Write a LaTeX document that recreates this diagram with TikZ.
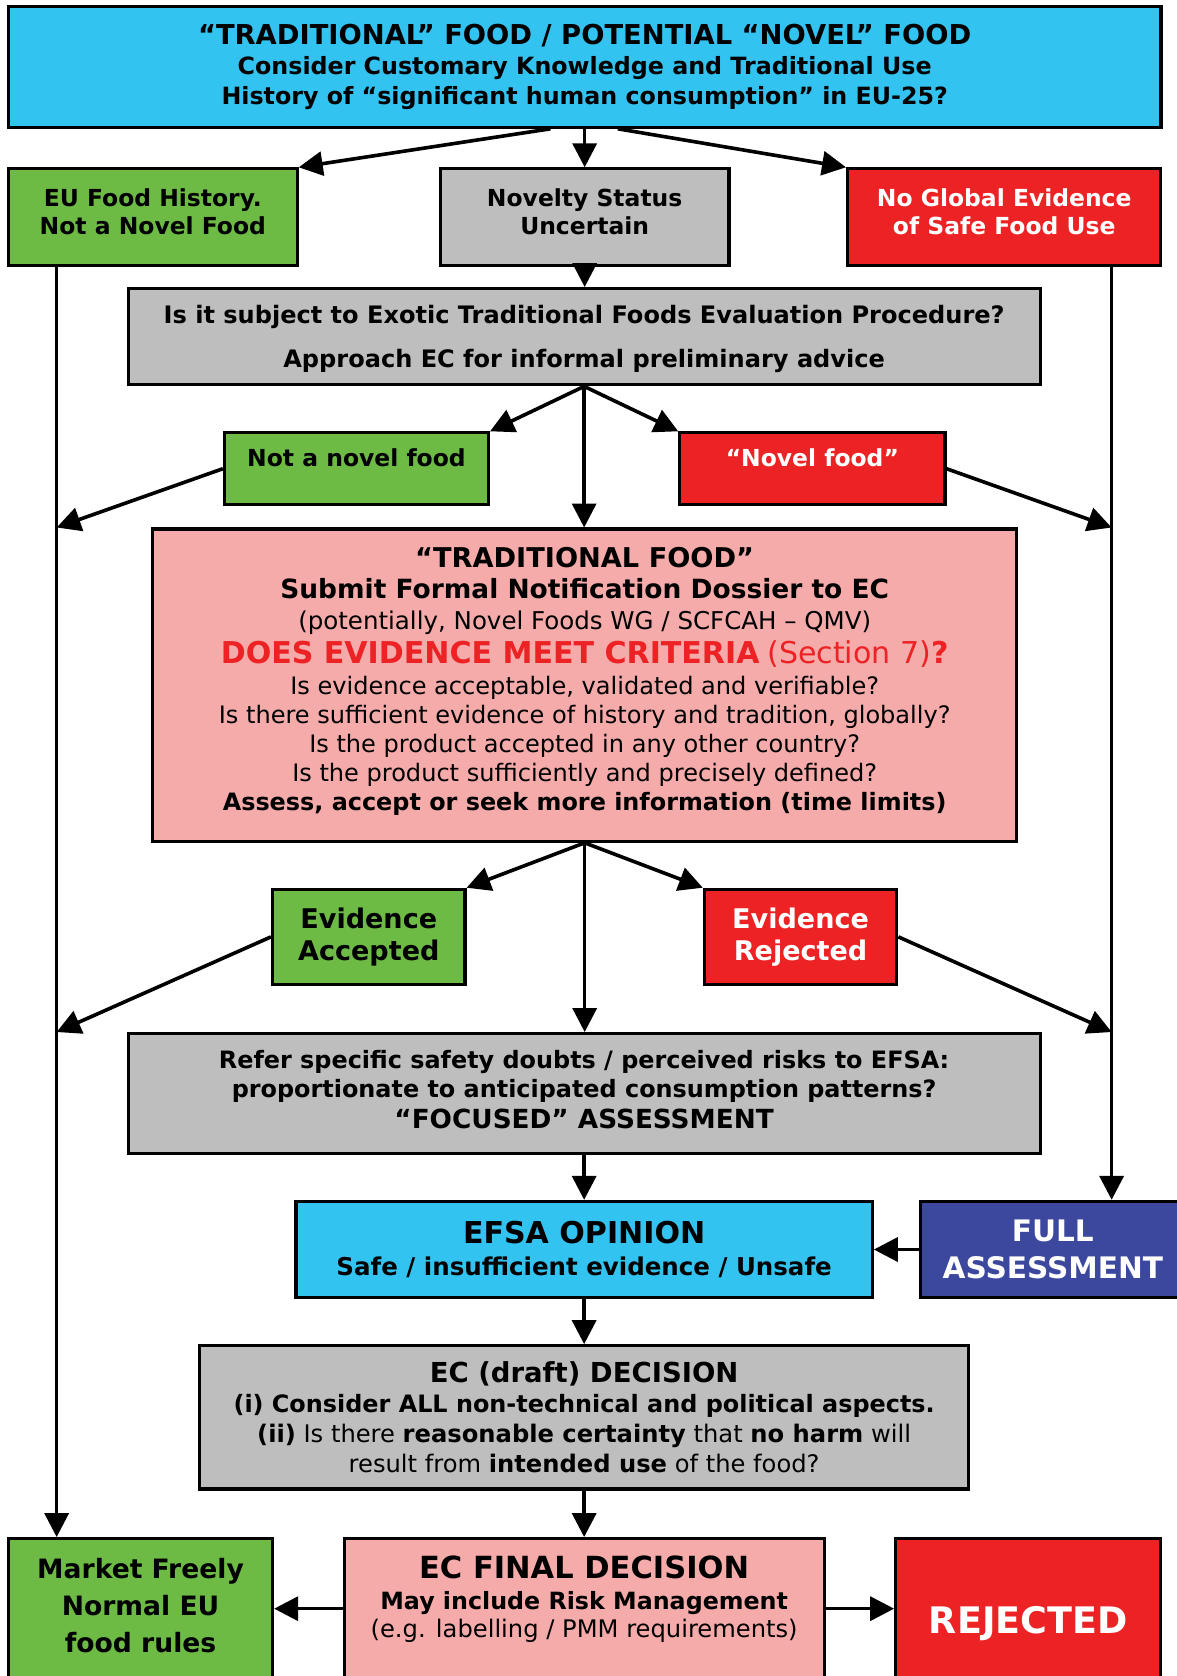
\documentclass[tikz,border=0pt]{standalone}
\usepackage{fontspec}
\setmainfont{DejaVu Sans}
\usetikzlibrary{arrows.meta}

\definecolor{skyblue}{RGB}{51,195,240}
\definecolor{leafgreen}{RGB}{109,187,69}
\definecolor{boxgray}{RGB}{190,190,190}
\definecolor{alertred}{RGB}{237,34,36}
\definecolor{salmon}{RGB}{246,171,171}
\definecolor{deepblue}{RGB}{60,71,158}

\newcommand{\fsz}[2]{\fontsize{#1}{#2}\selectfont}

\tikzset{
  box/.style={draw=black, line width=2.1pt, align=center, inner sep=0pt},
  flow/.style={line width=2.4pt, -{Triangle[length=0.56cm,width=0.56cm]}},
}

\begin{document}
\begin{tikzpicture}[x=0.025cm, y=-0.025cm]
\useasboundingbox (0,0) rectangle (1101,1568);

% Starting question
\node[box, fill=skyblue, minimum width=26.95cm, minimum height=2.825cm, font=\bfseries\fsz{15.8}{19.9}] (top) at (547,62.5)
  {{\fsz{18.2}{19.9}“TRADITIONAL” FOOD / POTENTIAL “NOVEL” FOOD}\\
   Consider Customary Knowledge and Traditional Use\\
   History of “significant human consumption” in EU-25?};

% First outcomes
\node[box, fill=leafgreen, minimum width=6.75cm, minimum height=2.25cm, text depth=0.25cm, font=\bfseries\fsz{15.6}{19.2}] (euhist) at (143,203)
  {EU Food History.\\Not a Novel Food};
\node[box, fill=boxgray, minimum width=6.75cm, minimum height=2.25cm, text depth=0.25cm, font=\bfseries\fsz{15.6}{19.2}] (novelty) at (547,203)
  {Novelty Status\\Uncertain};
\node[box, fill=alertred, text=white, minimum width=7.325cm, minimum height=2.25cm, text depth=0.25cm, font=\bfseries\fsz{15.6}{19.2}] (noglobal) at (939.5,203)
  {No Global Evidence\\of Safe Food Use};

\node[box, fill=boxgray, minimum width=21.325cm, minimum height=2.25cm, text depth=0pt, font=\bfseries\fsz{16}{19.2}] (exotic) at (546.5,315)
  {Is it subject to Exotic Traditional Foods Evaluation Procedure?\\[10pt]
   Approach EC for informal preliminary advice};

\node[box, fill=leafgreen, minimum width=6.175cm, minimum height=1.675cm, text height=0.4cm, text depth=0.5cm, font=\bfseries\fsz{15.6}{19.2}] (notnovel) at (333.5,438.5)
  {Not a novel food};
\node[box, fill=alertred, text=white, minimum width=6.2cm, minimum height=1.675cm, text height=0.4cm, text depth=0.5cm, font=\bfseries\fsz{15.6}{19.2}] (novelfood) at (760,438.5)
  {“Novel food”};

% Notification dossier
\node[box, fill=salmon, minimum width=20.2cm, minimum height=7.3cm, text depth=0.3cm, font=\fsz{16}{19.2}] (dossier) at (547,641)
  {{\bfseries\fsz{18.1}{19.2}“TRADITIONAL FOOD”}\\[1.5pt]
   {\bfseries\fsz{17.6}{19.2}Submit Formal Notification Dossier to EC}\\[1.5pt]
   {\fsz{16.3}{19.2}(potentially, Novel Foods WG / SCFCAH – QMV)}\\[3.5pt]
   {\color{alertred}{\bfseries\fsz{20}{19.2}DOES EVIDENCE MEET CRITERIA} {\fsz{20}{19.2}(Section 7)}{\bfseries\fsz{20}{19.2}?}}\\[1.5pt]
   Is evidence acceptable, validated and verifiable?\\
   Is there sufficient evidence of history and tradition, globally?\\
   Is the product accepted in any other country?\\
   Is the product sufficiently and precisely defined?\\
   {\bfseries\fsz{15.9}{19.2}Assess, accept or seek more information (time limits)}};

\node[box, fill=leafgreen, minimum width=4.5cm, minimum height=2.225cm, font=\bfseries\fsz{18}{21.3}] (accepted) at (345,876.5)
  {Evidence\\Accepted};
\node[box, fill=alertred, text=white, minimum width=4.5cm, minimum height=2.225cm, font=\bfseries\fsz{18}{21.3}] (rejected) at (749,876.5)
  {Evidence\\Rejected};

% Assessment
\node[box, fill=boxgray, minimum width=21.325cm, minimum height=2.8cm, text depth=0.2cm, font=\bfseries\fsz{15.9}{19.6}] (refer) at (546.5,1023)
  {Refer specific safety doubts / perceived risks to EFSA:\\
   proportionate to anticipated consumption patterns?\\[1pt]
   {\fsz{17.5}{19.6}“FOCUSED” ASSESSMENT}};

\node[box, fill=skyblue, minimum width=13.475cm, minimum height=2.25cm, font=\bfseries\fsz{16.3}{21}] (efsa) at (546.5,1169)
  {{\fsz{20}{21}EFSA OPINION}\\
   Safe / insufficient evidence / Unsafe};
\node[box, fill=deepblue, text=white, minimum width=6.2cm, minimum height=2.25cm, font=\bfseries\fsz{19.7}{24.9}] (full) at (985,1169)
  {FULL\\ASSESSMENT};

\node[box, fill=boxgray, minimum width=17.975cm, minimum height=3.35cm, font=\fsz{16.1}{19.9}] (draft) at (546.5,1326)
  {{\bfseries\fsz{18.3}{19.9}EC (draft) DECISION}\\
   {\bfseries\fsz{15.9}{19.9}(i) Consider ALL non-technical and political aspects.}\\
   {\bfseries (ii)} Is there {\bfseries reasonable certainty} that {\bfseries no harm} will\\
   result from {\bfseries intended use} of the food?};

% Final outcomes
\node[box, fill=leafgreen, anchor=north, minimum width=6.175cm, inner ysep=0.47cm, text depth=2.5cm, font=\bfseries\fsz{17.7}{24.5}] (market) at (131.5,1438)
  {Market Freely\\Normal EU\\food rules};
\node[box, fill=salmon, anchor=north, minimum width=11.225cm, inner ysep=0.41cm, text depth=2.5cm, font=\fsz{16.1}{18.8}] (final) at (546.5,1438)
  {{\bfseries\fsz{20.3}{18.8}EC FINAL DECISION}\\[1.5pt]
   {\bfseries\fsz{15.8}{18.8}May include Risk Management}\\
   (e.g. labelling / PMM requirements)};
\node[box, fill=alertred, text=white, anchor=north, minimum width=6.2cm, inner ysep=1.58cm, text depth=2.5cm, font=\bfseries\fsz{24.3}{28}] (refused) at (962,1438)
  {REJECTED};

% Side lines
\coordinate (lline) at (53,248);
\coordinate (rline) at (1040,248);
\coordinate (arrowrow) at (0,1505);

% Draw the connectors
\draw[flow] (top) -- (novelty);
\draw[flow] ([xshift=-0.8cm]top.south) -- (euhist.north east);
\draw[flow] ([xshift=0.775cm]top.south) -- (noglobal.north west);
\draw[flow] (novelty.south) -- (novelty.south |- exotic.north);
\draw[flow] (exotic.south) -- (exotic.south |- dossier.north);
\draw[flow] (exotic.south) -- (notnovel.north east);
\draw[flow] (exotic.south) -- (novelfood.north west);
\draw[flow] (notnovel.west) -- (lline |- dossier.north);
\draw[flow] (novelfood.east) -- (rline |- dossier.north);
\draw[flow] (lline) -- (lline |- market.north);
\draw[flow] (rline) -- (rline |- full.north);
\draw[flow] (dossier.south) -- (dossier.south |- refer.north);
\draw[flow] (dossier.south) -- (accepted.north east);
\draw[flow] (dossier.south) -- (rejected.north west);
\draw[flow] (accepted.west) -- (lline |- refer.north);
\draw[flow] (rejected.east) -- (rline |- refer.north);
\draw[flow] (refer) -- (efsa);
\draw[flow] (full) -- (efsa);
\draw[flow] (efsa) -- (draft);
\draw[flow] (draft.south) -- (draft.south |- final.north);
\draw[flow] (final.west |- arrowrow) -- (market.east |- arrowrow);
\draw[flow] (final.east |- arrowrow) -- (refused.west |- arrowrow);

\end{tikzpicture}
\end{document}
